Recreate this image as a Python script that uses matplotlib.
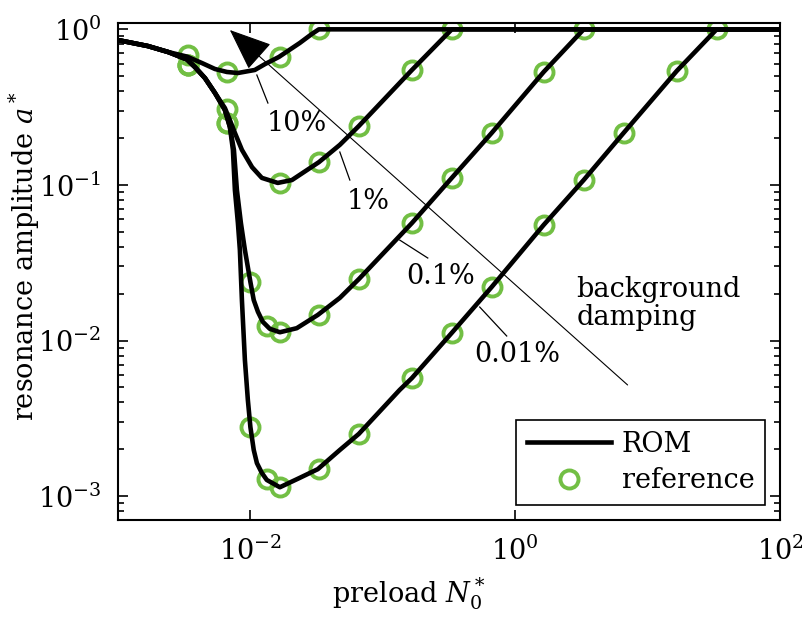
import numpy as np
import matplotlib
matplotlib.use("Agg")
import matplotlib.pyplot as plt
from matplotlib.ticker import LogLocator, NullLocator

plt.rcParams['font.family'] = ['DejaVu Serif']
plt.rcParams['mathtext.fontset'] = 'dejavuserif'
plt.rcParams['axes.unicode_minus'] = False

# ROM curves, one per damping level
x_rom_10 = [1e-3, 1.68e-3, 2.39e-3, 3.32e-3, 4.31e-3, 5.40e-3, 6.65e-3, 8.05e-3, 1.08e-2,
            1.29e-2, 1.64e-2, 2.36e-2, 2.91e-2, 3.29e-2, 1e2]
y_rom_10 = [0.853, 0.781, 0.715, 0.668, 0.607, 0.556, 0.532, 0.524, 0.548,
            0.598, 0.664, 0.817, 0.933, 1.0, 1.0]

x_rom_1 = [1e-3, 1.68e-3, 2.39e-3, 3.32e-3, 3.81e-3, 4.54e-3, 5.40e-3, 6.42e-3, 7.00e-3,
           7.64e-3, 8.63e-3, 1.03e-2, 1.22e-2, 1.61e-2, 2.06e-2, 3.29e-2, 4.74e-2, 6.59e-2,
           0.166, 0.332, 1e2]
y_rom_1 = [0.853, 0.781, 0.715, 0.64, 0.572, 0.486, 0.390, 0.312, 0.261,
           0.216, 0.168, 0.130, 0.111, 0.103, 0.1075, 0.140, 0.181, 0.239,
           0.548, 1.0, 1.0]

x_rom_01 = [1e-3, 1.68e-3, 2.39e-3, 3.32e-3, 3.81e-3, 4.54e-3, 5.40e-3, 6.42e-3, 7.00e-3,
            7.51e-3, 7.91e-3, 8.48e-3, 9.09e-3, 1.0e-2, 1.06e-2, 1.14e-2, 1.24e-2, 1.40e-2,
            1.67e-2, 2.24e-2, 3.23e-2, 4.74e-2, 6.59e-2, 0.166, 0.332, 0.665, 1.64, 3.29, 1e2]
y_rom_01 = [0.853, 0.781, 0.715, 0.64, 0.572, 0.486, 0.390, 0.303, 0.236,
            0.168, 0.0927, 0.0569, 0.0382, 0.0238, 0.0182, 0.0153, 0.0132, 0.0119,
            0.0113, 0.0120, 0.0146, 0.0188, 0.0248, 0.0569, 0.111, 0.216, 0.532, 1.0, 1.0]

x_rom_001 = [1e-3, 1.68e-3, 2.39e-3, 3.32e-3, 3.81e-3, 4.54e-3, 5.40e-3, 6.42e-3, 7.00e-3,
             7.38e-3, 7.64e-3, 8.05e-3, 8.33e-3, 8.63e-3, 9.09e-3, 9.57e-3, 1.0e-2, 1.06e-2,
             1.12e-2, 1.22e-2, 1.33e-2, 1.67e-2, 2.36e-2, 3.23e-2, 4.74e-2, 6.59e-2, 0.134,
             0.166, 0.332, 0.665, 1.64, 3.29, 6.59, 16.6, 33.2, 1e2]
y_rom_001 = [0.853, 0.781, 0.715, 0.64, 0.572, 0.486, 0.390, 0.303, 0.236,
             0.168, 0.0927, 0.0569, 0.0382, 0.0182, 7.49e-3, 4.15e-3, 2.78e-3, 1.98e-3,
             1.63e-3, 1.41e-3, 1.27e-3, 1.14e-3, 1.31e-3, 1.49e-3, 1.98e-3, 2.51e-3, 4.81e-3,
             5.74e-3, 1.12e-2, 2.21e-2, 5.53e-2, 0.1075, 0.216, 0.540, 1.0, 1.0]

# reference solution (circles)
x_ref_10 = [3.37e-3, 6.65e-3, 1.67e-2, 3.29e-2]
y_ref_10 = [0.684, 0.532, 0.664, 1.0]
x_ref_1 = [3.37e-3, 6.65e-3, 1.67e-2, 3.29e-2, 6.6e-2, 0.166, 0.332]
y_ref_1 = [0.59, 0.307, 0.103, 0.140, 0.239, 0.548, 1.0]
x_ref_01 = [3.37e-3, 6.65e-3, 1e-2, 1.33e-2, 1.67e-2, 3.29e-2, 6.6e-2, 0.166, 0.332,
            0.665, 1.64, 3.29]
y_ref_01 = [0.59, 0.25, 0.0238, 0.0124, 0.0113, 0.0146, 0.0249, 0.0569, 0.111,
            0.216, 0.532, 1.0]
x_ref_001 = [3.37e-3, 6.65e-3, 1e-2, 1.33e-2, 1.67e-2, 3.29e-2, 6.6e-2, 0.166, 0.332,
             0.665, 1.64, 3.29, 6.59, 16.6, 33.2]
y_ref_001 = [0.59, 0.25, 2.78e-3, 1.29e-3, 1.14e-3, 1.49e-3, 2.51e-3, 5.74e-3, 0.0112,
             0.0221, 0.0553, 0.1075, 0.216, 0.540, 1.0]

# curve labels: text, text position, leader line start/end
damp_labels = ['10%', '1%', '0.1%', '0.01%']
label_pos = [(0.0224, 0.25), (0.0771, 0.0788), (0.274, 0.0256), (1.044, 8.07e-3)]
leader_start = [(0.01119, 0.5085), (0.04737, 0.1627), (0.1343, 0.0442), (0.5395, 0.01641)]
leader_end = [(0.01356, 0.336), (0.05636, 0.1075), (0.2186, 0.0339), (0.8626, 0.01069)]

green = '#72bf44'
fs = 19.5

fig = plt.figure(figsize=(8.02, 6.17), dpi=100)
ax = fig.add_axes([0.1471, 0.1572, 0.8255, 0.8055])

rom_x = [x_rom_10, x_rom_1, x_rom_01, x_rom_001]
rom_y = [y_rom_10, y_rom_1, y_rom_01, y_rom_001]
ref_x = [x_ref_10, x_ref_1, x_ref_01, x_ref_001]
ref_y = [y_ref_10, y_ref_1, y_ref_01, y_ref_001]

for i in range(4):
    h_ref, = ax.plot(ref_x[i], ref_y[i], 'o', mfc='none', mec=green, ms=13, mew=2.8,
                     zorder=2, label='reference')
for i in range(4):
    h_rom, = ax.plot(rom_x[i], rom_y[i], 'k-', lw=3.3, zorder=3, label='ROM',
                     solid_joinstyle='round')

ax.set_xscale('log')
ax.set_yscale('log')
ax.set_xlim(1e-3, 1e2)
ax.set_ylim(7.02e-4, 1.098)

# background damping arrow and text
ax.annotate('', xy=(7.0e-3, 0.99), xytext=(7.06, 5.18e-3),
            arrowprops=dict(arrowstyle='-|>,head_length=0.54,head_width=0.22',
                            mutation_scale=50, lw=0.8, color='k', shrinkA=0, shrinkB=0))
ax.text(2.91, 0.01904, 'background', fontsize=fs, va='baseline', ha='left')
ax.text(2.91, 0.01258, 'damping', fontsize=fs, va='baseline', ha='left')

for lab, pos, p0, p1 in zip(damp_labels, label_pos, leader_start, leader_end):
    ax.plot([p0[0], p1[0]], [p0[1], p1[1]], 'k-', lw=0.9, zorder=4)
    ax.text(pos[0], pos[1], lab, fontsize=fs, ha='center', va='center')

ax.set_xticks([1e-2, 1, 1e2])
ax.xaxis.set_minor_locator(NullLocator())
ax.set_yticks([1e-3, 1e-2, 1e-1, 1])
ax.yaxis.set_minor_locator(LogLocator(base=10, subs=np.arange(2, 10)))
ax.tick_params(which='both', direction='in', top=True, right=True, width=1.2,
               labelsize=fs)
ax.tick_params(which='major', length=7)
ax.tick_params(which='minor', length=4)
ax.tick_params(axis='x', pad=12)
ax.tick_params(axis='y', pad=12)
for sp in ax.spines.values():
    sp.set_linewidth(1.5)

ax.set_xlabel('preload $N_0^*$', fontsize=fs)
ax.set_ylabel('resonance amplitude $a^*$', fontsize=fs)
ax.xaxis.set_label_coords(0.44, -0.112)
ax.yaxis.set_label_coords(-0.115, 0.53)

leg = ax.legend([h_rom, h_ref], ['ROM', 'reference'], loc='lower right', fontsize=fs,
                fancybox=False, edgecolor='black', framealpha=1, numpoints=1,
                handlelength=3.1, handletextpad=0.4, labelspacing=0.35,
                borderpad=0.4, borderaxespad=0.55)
leg.get_frame().set_linewidth(1.2)

fig.savefig('out.png', dpi=100)
